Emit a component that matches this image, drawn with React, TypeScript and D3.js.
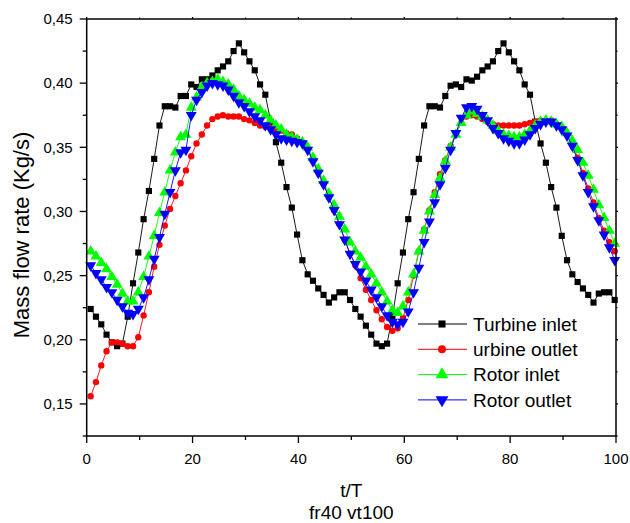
import React from 'react';
import * as d3 from 'd3';

// time steps (t/T) of the sampled points
const TIME = d3.range(100).map((k) => k + 0.75);

const turbineInlet = [
  0.224, 0.218, 0.212, 0.204, 0.198, 0.195, 0.197, 0.218, 0.244, 0.268,
  0.294, 0.316, 0.341, 0.367, 0.382, 0.382, 0.381, 0.390, 0.390, 0.399,
  0.397, 0.403, 0.403, 0.406, 0.410, 0.413, 0.417, 0.425, 0.431, 0.424,
  0.417, 0.410, 0.399, 0.391, 0.370, 0.354, 0.338, 0.319, 0.303, 0.282,
  0.262, 0.251, 0.246, 0.240, 0.235, 0.229, 0.233, 0.237, 0.237, 0.231,
  0.224, 0.218, 0.211, 0.204, 0.197, 0.195, 0.197, 0.218, 0.244, 0.268,
  0.294, 0.315, 0.341, 0.367, 0.382, 0.382, 0.381, 0.390, 0.398, 0.399,
  0.397, 0.403, 0.402, 0.405, 0.410, 0.413, 0.417, 0.425, 0.431, 0.424,
  0.417, 0.410, 0.399, 0.391, 0.370, 0.353, 0.338, 0.319, 0.303, 0.281,
  0.262, 0.251, 0.245, 0.240, 0.235, 0.229, 0.236, 0.237, 0.237, 0.231,
];

const turbineOutlet = [
  0.156, 0.167, 0.180, 0.191, 0.198, 0.198, 0.197, 0.195, 0.195, 0.202,
  0.219, 0.237, 0.257, 0.274, 0.289, 0.302, 0.312, 0.322, 0.332, 0.343,
  0.353, 0.360, 0.367, 0.372, 0.374, 0.375, 0.374, 0.374, 0.374, 0.372,
  0.371, 0.369, 0.367, 0.366, 0.365, 0.364, 0.363, 0.361, 0.360, 0.357,
  0.354, 0.349, 0.340, 0.331, 0.322, 0.311, 0.301, 0.290, 0.278, 0.267,
  0.258, 0.248, 0.239, 0.231, 0.223, 0.216, 0.210, 0.207, 0.209, 0.217,
  0.231, 0.250, 0.269, 0.286, 0.301, 0.315, 0.329, 0.340, 0.351, 0.361,
  0.369, 0.374, 0.375, 0.374, 0.372, 0.370, 0.368, 0.367, 0.367, 0.367,
  0.367, 0.367, 0.368, 0.369, 0.370, 0.371, 0.371, 0.371, 0.368, 0.365,
  0.360, 0.352, 0.342, 0.330, 0.318, 0.307, 0.295, 0.285, 0.276, 0.269,
];

const rotorInlet = [
  0.269, 0.265, 0.260, 0.255, 0.249, 0.243, 0.236, 0.230, 0.230, 0.237,
  0.249, 0.265, 0.281, 0.299, 0.315, 0.332, 0.346, 0.358, 0.360, 0.381,
  0.389, 0.397, 0.400, 0.401, 0.403, 0.401, 0.399, 0.395, 0.390, 0.387,
  0.384, 0.381, 0.379, 0.375, 0.371, 0.367, 0.364, 0.360, 0.358, 0.356,
  0.354, 0.350, 0.342, 0.333, 0.324, 0.314, 0.305, 0.296, 0.286, 0.276,
  0.269, 0.264, 0.257, 0.251, 0.244, 0.237, 0.230, 0.223, 0.221, 0.226,
  0.237, 0.251, 0.269, 0.285, 0.300, 0.313, 0.326, 0.339, 0.350, 0.360,
  0.369, 0.375, 0.378, 0.376, 0.374, 0.371, 0.367, 0.363, 0.360, 0.359,
  0.358, 0.358, 0.360, 0.363, 0.367, 0.370, 0.371, 0.370, 0.368, 0.366,
  0.361, 0.355, 0.348, 0.338, 0.328, 0.317, 0.305, 0.295, 0.285, 0.275,
];

const rotorOutlet = [
  0.258, 0.252, 0.247, 0.241, 0.237, 0.231, 0.226, 0.221, 0.220, 0.224,
  0.233, 0.247, 0.263, 0.280, 0.298, 0.315, 0.332, 0.346, 0.348, 0.375,
  0.387, 0.393, 0.398, 0.400, 0.399, 0.398, 0.395, 0.390, 0.385, 0.382,
  0.378, 0.374, 0.371, 0.367, 0.364, 0.360, 0.357, 0.356, 0.355, 0.354,
  0.353, 0.348, 0.339, 0.330, 0.321, 0.311, 0.301, 0.290, 0.278, 0.267,
  0.259, 0.253, 0.246, 0.239, 0.233, 0.226, 0.219, 0.214, 0.212, 0.214,
  0.222, 0.237, 0.256, 0.276, 0.292, 0.307, 0.321, 0.334, 0.348, 0.361,
  0.373, 0.381, 0.382, 0.380, 0.375, 0.371, 0.365, 0.361, 0.357, 0.355,
  0.353, 0.353, 0.356, 0.360, 0.365, 0.368, 0.370, 0.370, 0.367, 0.364,
  0.359, 0.351, 0.340, 0.328, 0.315, 0.304, 0.293, 0.282, 0.272, 0.262,
];

const SERIES_NAMES = ['Turbine inlet', 'urbine outlet', 'Rotor inlet', 'Rotor outlet'];
const Y_TICKS = [0.15, 0.2, 0.25, 0.3, 0.35, 0.4, 0.45];
const Y_MINOR = [0.125, 0.175, 0.225, 0.275, 0.325, 0.375, 0.425];
const X_TICKS = [0, 20, 40, 60, 80, 100];
const X_MINOR = [10, 30, 50, 70, 90];
const X_TITLE = 't/T';
const SUBTITLE = 'fr40 vt100';
const Y_TITLE = 'Mass flow rate (Kg/s)';

const FONT = '"Liberation Sans", Arial, Helvetica, sans-serif';

export default function App() {
  const W = 630;
  const H = 523;
  const x = d3.scaleLinear().domain([0, 100]).range([86.7, 616]);
  const y = d3.scaleLinear().domain([0.125, 0.45]).range([436, 19]);
  const fmt = (v: number) => d3.format('.2f')(v).replace('.', ',');

  const seriesData = [turbineInlet, turbineOutlet, rotorInlet, rotorOutlet];
  const colors = ['#000000', '#ff0000', '#00ff00', '#0000ff'];
  const symbolTypes = [d3.symbolSquare, d3.symbolCircle, d3.symbolTriangle, d3.symbolTriangle];
  const sizes = [38, 32, 52, 52];
  const legendSizes = [50, 50, 72, 72];
  const rotations = [0, 0, 0, 180];

  const line = d3
    .line<number>()
    .x((_, i) => x(TIME[i]))
    .y((d) => y(d));

  const [x0, x1] = x.range();
  const [yb, yt] = y.range();

  return (
    <svg
      width={W}
      height={H}
      style={{ position: 'absolute', left: 0, top: 0, background: '#fff' }}
      fontFamily={FONT}
    >
      <rect x={0} y={0} width={W} height={H} fill="#fff" />
      {/* series */}
      {seriesData.map((vals, si) => {
        const path = d3.symbol().type(symbolTypes[si]).size(sizes[si])() as string;
        return (
          <g key={si}>
            <path d={line(vals) as string} fill="none" stroke={colors[si]} strokeWidth={0.9} />
            {vals.map((v, i) => (
              <path
                key={i}
                d={path}
                fill={colors[si]}
                transform={`translate(${x(TIME[i])},${y(v)}) rotate(${rotations[si]})`}
              />
            ))}
          </g>
        );
      })}

      {/* frame */}
      <g stroke="#000" strokeWidth={1.5} fill="none">
        <line x1={x0} x2={x1} y1={yb} y2={yb} />
        <line x1={x0} x2={x1} y1={yt} y2={yt} />
        <line x1={x0} x2={x0} y1={yt} y2={yb} />
        <line x1={x1} x2={x1} y1={yt} y2={yb} />
      </g>

      {/* ticks */}
      <g stroke="#000" strokeWidth={1.3}>
        {Y_TICKS.map((t) => (
          <g key={'ym' + t}>
            <line x1={x0 - 7} x2={x0} y1={y(t)} y2={y(t)} />
            <line x1={x1} x2={x1 + 2} y1={y(t)} y2={y(t)} />
          </g>
        ))}
        {Y_MINOR.map((t) => (
          <g key={'yn' + t}>
            <line x1={x0 - 4} x2={x0} y1={y(t)} y2={y(t)} />
            <line x1={x1} x2={x1 + 1.5} y1={y(t)} y2={y(t)} />
          </g>
        ))}
        {X_TICKS.map((t) => (
          <g key={'xm' + t}>
            <line x1={x(t)} x2={x(t)} y1={yb} y2={yb + 7} />
            <line x1={x(t)} x2={x(t)} y1={yt} y2={yt - 2} />
          </g>
        ))}
        {X_MINOR.map((t) => (
          <g key={'xn' + t}>
            <line x1={x(t)} x2={x(t)} y1={yb} y2={yb + 4} />
            <line x1={x(t)} x2={x(t)} y1={yt} y2={yt - 1.5} />
          </g>
        ))}
      </g>

      {/* tick labels */}
      <g fontSize={15} fill="#000">
        {Y_TICKS.map((t) => (
          <text key={'yl' + t} x={x0 - 14} y={y(t)} dy="0.35em" textAnchor="end">
            {fmt(t)}
          </text>
        ))}
        {X_TICKS.map((t) => (
          <text key={'xl' + t} x={x(t)} y={464} textAnchor="middle">
            {t}
          </text>
        ))}
      </g>

      {/* titles */}
      <text x={(x0 + x1) / 2} y={497} fontSize={19} textAnchor="middle">
        {X_TITLE}
      </text>
      <text x={(x0 + x1) / 2} y={519} fontSize={19} textAnchor="middle">
        {SUBTITLE}
      </text>
      <text transform={`translate(29,235) rotate(-90)`} fontSize={22} textAnchor="middle">
        {Y_TITLE}
      </text>

      {/* legend */}
      {SERIES_NAMES.map((name, si) => {
        const cy = 324 + si * 25.3;
        const path = d3.symbol().type(symbolTypes[si]).size(legendSizes[si])() as string;
        return (
          <g key={'lg' + si}>
            <line x1={418} x2={467} y1={cy} y2={cy} stroke={colors[si]} strokeWidth={1} />
            <path
              d={path}
              fill={colors[si]}
              transform={`translate(442,${cy}) rotate(${rotations[si]})`}
            />
            <text x={473} y={cy} dy="0.35em" fontSize={19}>
              {name}
            </text>
          </g>
        );
      })}
    </svg>
  );
}
